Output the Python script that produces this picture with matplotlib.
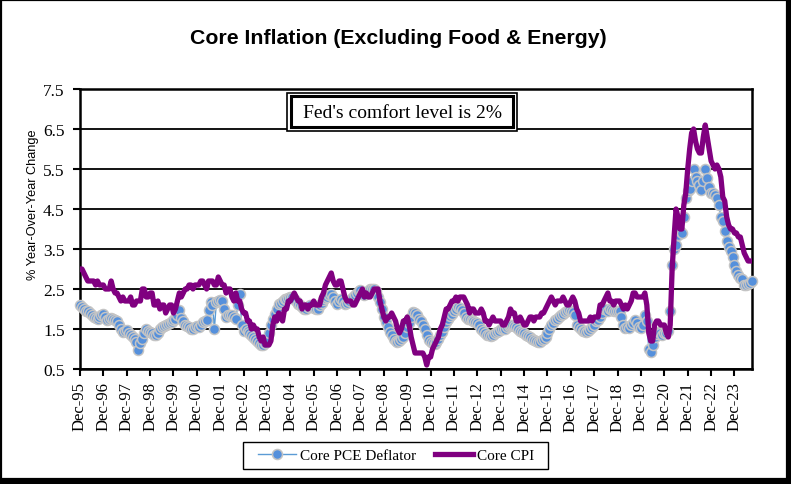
import numpy as np
import matplotlib
matplotlib.use("Agg")
import matplotlib.pyplot as plt
from matplotlib.patches import Rectangle

# --- DATA (monthly yoy %, Dec-1995 .. Sep-2024) ---
pce_core = [
    2.1,  # Dec-95
    2.05, 2.0, 1.95, 1.95, 1.9, 1.85, 1.8, 1.78, 1.75, 1.8, 1.85, 1.88,   # 1996
    1.8, 1.72, 1.75, 1.78, 1.74, 1.72, 1.7, 1.6, 1.5, 1.43, 1.45, 1.47,   # 1997
    1.4, 1.34, 1.3, 1.26, 1.18, 0.97, 1.15, 1.26, 1.4, 1.51, 1.45, 1.43,  # 1998
    1.4, 1.36, 1.34, 1.4, 1.51, 1.55, 1.58, 1.59, 1.62, 1.65, 1.68, 1.72, # 1999
    1.76, 1.85, 1.97, 1.78, 1.7, 1.6, 1.58, 1.55, 1.51, 1.5, 1.55, 1.58,  # 2000
    1.55, 1.6, 1.68, 1.7, 1.72, 1.97, 2.17, 2.1, 1.51, 2.17, 2.2, 2.22,   # 2001
    2.2, 2.0, 1.8, 1.85, 1.84, 1.85, 1.8, 1.76, 2.1, 2.38, 1.6, 1.45,     # 2002
    1.5, 1.45, 1.4, 1.34, 1.3, 1.26, 1.2, 1.15, 1.1, 1.09, 1.15, 1.25,    # 2003
    1.4, 1.59, 1.75, 1.88, 2.0, 2.13, 2.15, 2.2, 2.26, 2.25, 2.28, 2.3,   # 2004
    2.3, 2.25, 2.2, 2.13, 2.1, 2.05, 2.01, 2.0, 2.05, 2.09, 2.05, 2.02,   # 2005
    2.0, 2.01, 2.1, 2.15, 2.22, 2.28, 2.3, 2.35, 2.38, 2.3, 2.2, 2.13,    # 2006
    2.2, 2.26, 2.2, 2.13, 2.15, 2.2, 2.26, 2.3, 2.35, 2.4, 2.45, 2.47,    # 2007
    2.4, 2.34, 2.4, 2.45, 2.51, 2.5, 2.51, 2.45, 2.3, 2.17, 2.0, 1.8,     # 2008
    1.68, 1.55, 1.43, 1.35, 1.26, 1.2, 1.18, 1.2, 1.25, 1.3, 1.4, 1.55,   # 2009
    1.65, 1.8, 1.93, 1.9, 1.85, 1.76, 1.7, 1.6, 1.51, 1.35, 1.22, 1.18,   # 2010
    1.14, 1.12, 1.18, 1.25, 1.35, 1.43, 1.55, 1.68, 1.75, 1.82, 1.88, 1.95, # 2011
    2.0, 2.05, 2.02, 1.97, 1.9, 1.8, 1.76, 1.74, 1.72, 1.7, 1.68, 1.65,   # 2012
    1.6, 1.51, 1.45, 1.39, 1.36, 1.34, 1.33, 1.36, 1.39, 1.42, 1.45, 1.5, # 2013
    1.5, 1.51, 1.55, 1.58, 1.59, 1.6, 1.58, 1.55, 1.5, 1.45, 1.42, 1.39,  # 2014
    1.35, 1.32, 1.3, 1.25, 1.22, 1.2, 1.18, 1.18, 1.22, 1.26, 1.3, 1.4,   # 2015
    1.5, 1.59, 1.65, 1.72, 1.75, 1.8, 1.84, 1.88, 1.92, 1.95, 1.97, 1.95, # 2016
    1.93, 1.85, 1.6, 1.55, 1.5, 1.45, 1.45, 1.42, 1.45, 1.5, 1.55, 1.6,   # 2017
    1.7, 1.73, 1.8, 1.9, 2.0, 2.0, 1.95, 2.0, 1.98, 1.94, 1.94, 1.94,     # 2018
    1.94, 1.8, 1.6, 1.52, 1.55, 1.52, 1.6, 1.65, 1.73, 1.65, 1.55, 1.52,  # 2019
    1.6, 1.85, 1.7, 1.0, 0.93, 1.1, 1.3, 1.38, 1.43, 1.4, 1.35, 1.4,      # 2020
    1.4, 1.45, 1.94, 3.1, 3.5, 3.6, 3.85, 3.94, 3.9, 4.3, 4.77, 4.95,     # 2021
    5.0, 5.2, 5.5, 5.3, 5.2, 5.1, 4.98, 5.2, 5.5, 5.27, 5.06, 4.9,        # 2022
    4.9, 4.85, 4.77, 4.6, 4.3, 4.2, 3.95, 3.69, 3.55, 3.44, 3.3, 3.1,     # 2023
    2.94, 2.85, 2.77, 2.75, 2.6, 2.6, 2.62, 2.65, 2.7,                    # 2024
]

cpi_core = [
    3.0,  # Dec-95
    3.0, 2.9, 2.8, 2.7, 2.7, 2.7, 2.7, 2.6, 2.7, 2.6, 2.6, 2.6,  # 1996
    2.5, 2.5, 2.5, 2.7, 2.5, 2.4, 2.4, 2.3, 2.2, 2.3, 2.2, 2.2,  # 1997
    2.2, 2.3, 2.1, 2.1, 2.2, 2.2, 2.2, 2.5, 2.5, 2.3, 2.3, 2.4,  # 1998
    2.4, 2.1, 2.1, 2.2, 2.0, 2.1, 2.1, 1.9, 2.0, 2.1, 2.1, 1.9,  # 1999
    2.0, 2.2, 2.4, 2.3, 2.4, 2.5, 2.5, 2.6, 2.6, 2.5, 2.6, 2.6,  # 2000
    2.6, 2.7, 2.7, 2.6, 2.5, 2.7, 2.7, 2.7, 2.6, 2.6, 2.8, 2.7,  # 2001
    2.6, 2.6, 2.4, 2.5, 2.5, 2.3, 2.2, 2.4, 2.2, 2.2, 2.0, 1.9,  # 2002
    1.9, 1.7, 1.7, 1.5, 1.6, 1.5, 1.5, 1.3, 1.2, 1.3, 1.1, 1.1,  # 2003
    1.1, 1.2, 1.6, 1.8, 1.7, 1.9, 1.8, 1.7, 2.0, 2.0, 2.2, 2.2,  # 2004
    2.3, 2.4, 2.3, 2.2, 2.2, 2.0, 2.1, 2.1, 2.0, 2.1, 2.1, 2.2,  # 2005
    2.1, 2.1, 2.1, 2.3, 2.4, 2.6, 2.7, 2.8, 2.9, 2.7, 2.6, 2.6,  # 2006
    2.7, 2.7, 2.5, 2.3, 2.2, 2.2, 2.2, 2.1, 2.1, 2.2, 2.3, 2.4,  # 2007
    2.5, 2.3, 2.4, 2.3, 2.3, 2.4, 2.5, 2.5, 2.5, 2.2, 2.0, 1.8,  # 2008
    1.7, 1.8, 1.8, 1.9, 1.8, 1.7, 1.5, 1.4, 1.5, 1.7, 1.7, 1.8,  # 2009
    1.6, 1.3, 1.1, 0.9, 0.9, 0.9, 0.9, 0.9, 0.8, 0.6, 0.8, 0.8,  # 2010
    1.0, 1.1, 1.2, 1.3, 1.5, 1.6, 1.8, 2.0, 2.0, 2.1, 2.2, 2.2,  # 2011
    2.3, 2.2, 2.3, 2.3, 2.3, 2.2, 2.1, 1.9, 2.0, 2.0, 1.9, 1.9,  # 2012
    1.9, 2.0, 1.9, 1.7, 1.7, 1.6, 1.7, 1.8, 1.7, 1.7, 1.7, 1.7,  # 2013
    1.6, 1.6, 1.7, 1.8, 2.0, 1.9, 1.9, 1.7, 1.7, 1.8, 1.7, 1.6,  # 2014
    1.6, 1.7, 1.8, 1.8, 1.7, 1.8, 1.8, 1.8, 1.9, 1.9, 2.0, 2.1,  # 2015
    2.2, 2.3, 2.2, 2.1, 2.2, 2.2, 2.2, 2.3, 2.2, 2.1, 2.1, 2.2,  # 2016
    2.3, 2.2, 2.0, 1.9, 1.7, 1.7, 1.7, 1.7, 1.7, 1.8, 1.7, 1.8,  # 2017
    1.8, 1.8, 2.1, 2.1, 2.2, 2.3, 2.4, 2.2, 2.2, 2.1, 2.2, 2.2,  # 2018
    2.2, 2.1, 2.0, 2.1, 2.0, 2.1, 2.2, 2.4, 2.4, 2.3, 2.3, 2.3,  # 2019
    2.3, 2.4, 2.1, 1.4, 1.2, 1.2, 1.6, 1.7, 1.7, 1.6, 1.6, 1.6,  # 2020
    1.4, 1.3, 1.6, 3.0, 3.8, 4.5, 4.3, 4.0, 4.0, 4.6, 4.9, 5.5,  # 2021
    6.0, 6.4, 6.5, 6.2, 6.0, 5.9, 5.9, 6.3, 6.6, 6.3, 6.0, 5.7,  # 2022
    5.6, 5.5, 5.6, 5.5, 5.3, 4.8, 4.7, 4.3, 4.1, 4.0, 4.0, 3.9,  # 2023
    3.9, 3.8, 3.8, 3.6, 3.4, 3.3, 3.2, 3.2, 3.2,                 # 2024
]

tick_years = list(range(1995, 2024))
tick_labels = [f"Dec-{y % 100:02d}" for y in tick_years]
y_ticks = [0.5, 1.5, 2.5, 3.5, 4.5, 5.5, 6.5, 7.5]

SERIF = "Liberation Serif"
SANS = "Liberation Sans"

months = np.arange(len(cpi_core))

# --- FIGURE ---
W, H = 791, 485
fig = plt.figure(figsize=(W / 100, H / 100), dpi=100)
ax = fig.add_axes([80 / W, 1 - 370 / H, (752 - 80) / W, (370 - 90) / H])

ax.plot(months, pce_core, color="#5b9bd5", lw=1.0, marker="o", ms=7.2,
        mfc="#5590dc", mec="#c4c4c4", mew=1.1, label="Core PCE Deflator",
        zorder=3, clip_on=False)
ax.plot(months, cpi_core, color="#800080", lw=3.8, label="Core CPI",
        zorder=4, solid_joinstyle="round")

ax.set_xlim(0, len(cpi_core) - 1)
ax.set_ylim(0.5, 7.5)
ax.set_yticks(y_ticks)
ax.set_yticklabels([f"{v:.1f}" for v in y_ticks], fontfamily=SERIF, fontsize=12.5)
ax.set_xticks([12 * i for i in range(len(tick_labels))])
ax.set_xticklabels(tick_labels, rotation=90, fontfamily=SERIF, fontsize=12)
ax.tick_params(axis="both", direction="out", length=5, width=1.5, color="black")
ax.tick_params(axis="y", pad=6)
ax.tick_params(axis="x", pad=4)

ax.yaxis.grid(True, color="black", lw=1.3)
ax.set_axisbelow(True)
for s in ax.spines.values():
    s.set_linewidth(1.8)
    s.set_color("black")

fig.text(33 / W, 1 - 205 / H, "% Year-Over-Year Change", rotation=90,
         ha="center", va="center", fontfamily=SANS, fontsize=9.2)

fig.text(0.503, 1 - 39 / H, "Core Inflation (Excluding Food & Energy)",
         ha="center", va="center", fontfamily=SANS, fontsize=15.3, fontweight="bold")

# --- Fed comfort box (double frame) ---
fig.patches.append(Rectangle((287 / W, 1 - 132 / H), 230 / W, 38.5 / H,
                             transform=fig.transFigure, fc="white", ec="black",
                             lw=1.2, zorder=5))
fig.patches.append(Rectangle((291 / W, 1 - 128 / H), 222 / W, 31 / H,
                             transform=fig.transFigure, fc="white", ec="black",
                             lw=2.2, zorder=6))
fig.text(402 / W, 1 - 113 / H, "Fed's comfort level is 2%", ha="center", va="center",
         fontfamily=SERIF, fontsize=14, zorder=7)

# --- legend (frame drawn separately) ---
fig.patches.append(Rectangle((243 / W, 1 - 470 / H), 305 / W, 27 / H,
                             transform=fig.transFigure, fc="white", ec="black",
                             lw=1.0, zorder=5))
leg = fig.legend(loc="center", bbox_to_anchor=(396 / W, 1 - 456.5 / H), ncol=2,
                 prop={"family": SERIF, "size": 11}, frameon=False,
                 handlelength=2.5, handletextpad=0.25, columnspacing=1.2,
                 borderpad=0.2, numpoints=1)
leg.set_zorder(8)

# --- chart border ---
fig.patches.append(Rectangle((1 / W, 5 / H), (W - 5) / W, (H - 6) / H,
                             transform=fig.transFigure, fill=False, ec="black",
                             lw=1.6, zorder=10))
fig.patches.append(Rectangle((0, 0), 1, 6 / H, transform=fig.transFigure,
                             fc="black", ec="none", zorder=10))
fig.patches.append(Rectangle((1 - 4 / W, 0), 4 / W, 1, transform=fig.transFigure,
                             fc="black", ec="none", zorder=10))

fig.savefig("out.png", dpi=100, facecolor="white")
